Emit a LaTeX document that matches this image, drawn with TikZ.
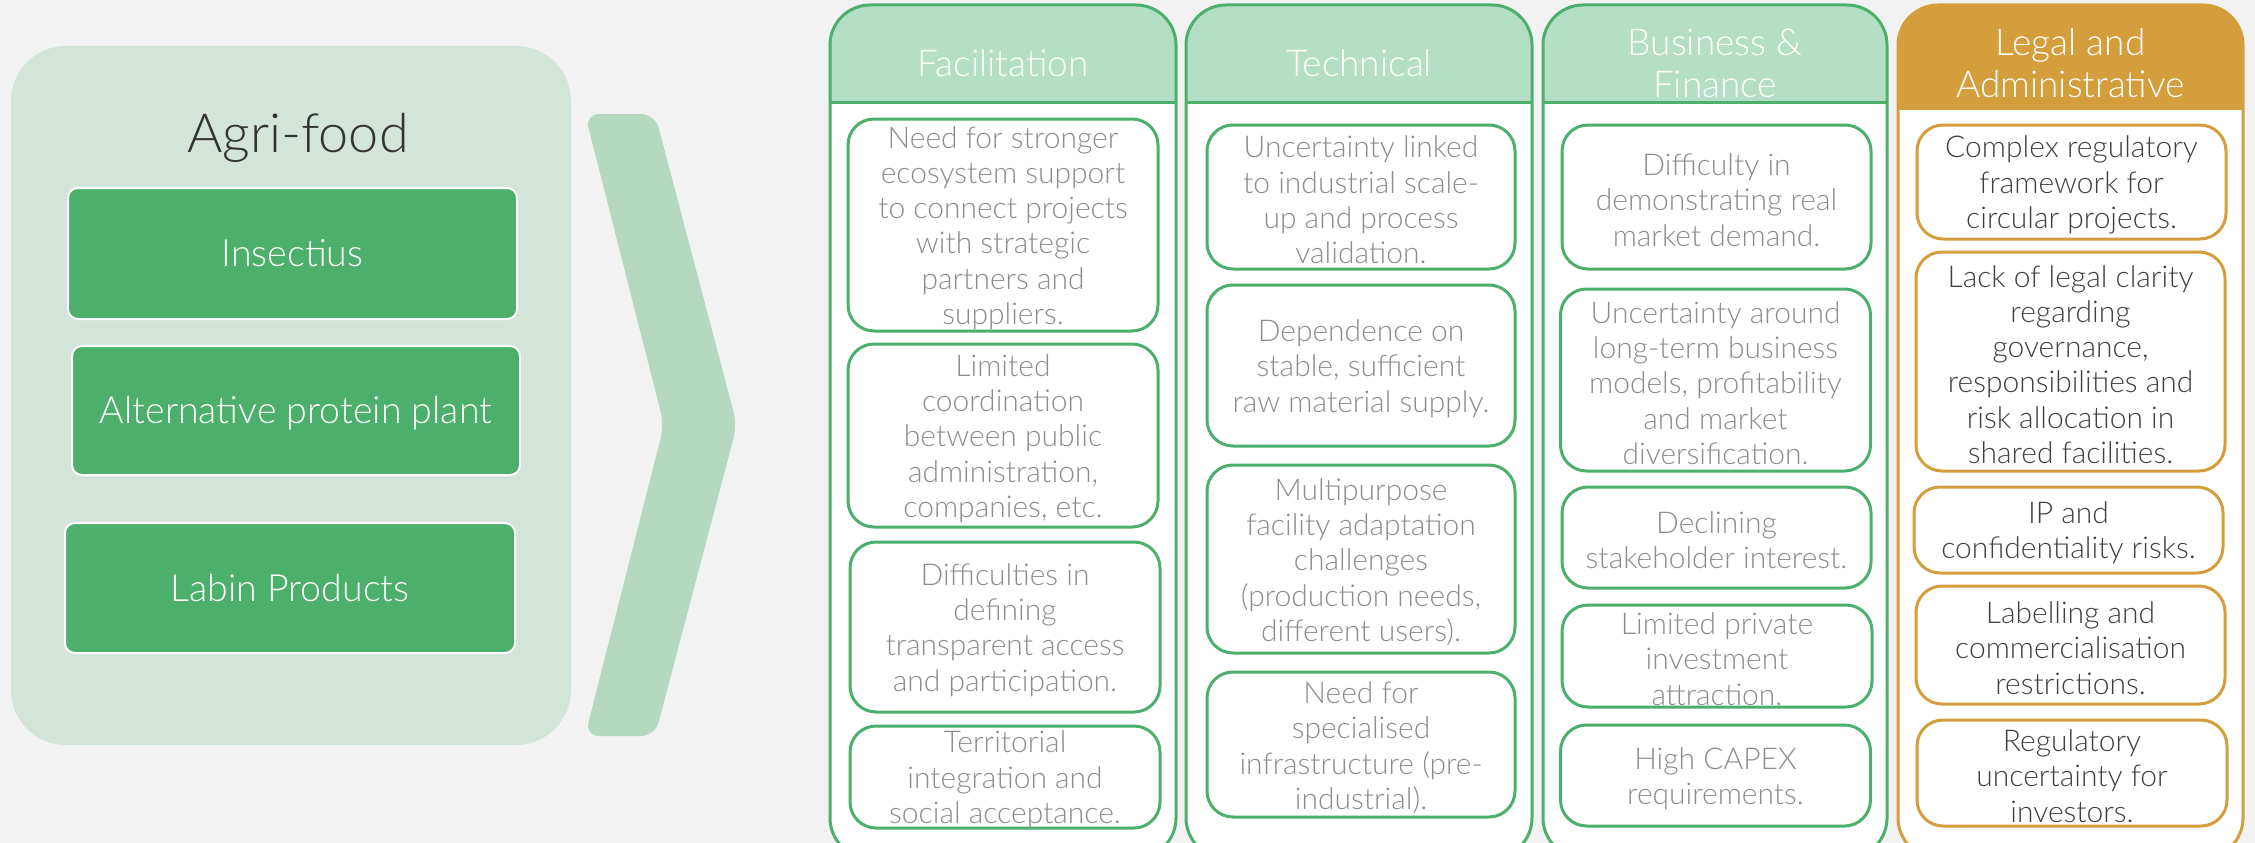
\documentclass[tikz,border=0pt]{standalone}
\usepackage{fontspec}
\setmainfont{Lato Light}
\definecolor{bgc}{HTML}{F2F2F2}
\definecolor{panelc}{HTML}{D3E5D9}
\definecolor{chevc}{HTML}{B4D9C0}
\definecolor{gboxc}{HTML}{4DAF6C}
\definecolor{colg}{HTML}{4DAF6C}
\definecolor{headg}{HTML}{B4DFC4}
\definecolor{orng}{HTML}{D59E3D}
\definecolor{greyt}{HTML}{8C8C8C}
\definecolor{darkt}{HTML}{404040}
\definecolor{titlet}{HTML}{333333}
\tikzset{
  cbox/.style={draw=#1, line width=3pt, fill=white, rounded corners=26pt, inner sep=0pt},
  boxtext/.style={text=#1, align=center, inner sep=0pt, yshift=-3pt, font=\fontsize{30}{35.3}\selectfont},
  gbox/.style={draw=white, line width=2pt, fill=gboxc, rounded corners=10pt, inner sep=0pt},
  gtext/.style={text=white, inner sep=0pt, font=\fontsize{37.5}{43}\selectfont},
  headtext/.style={text=white, align=center, inner sep=0pt, anchor=base, font=\fontsize{37}{42}\selectfont},
  colline/.style={line width=3pt, rounded corners=40pt},
}
\begin{document}
\begin{tikzpicture}[x=1pt,y=-1pt]
\useasboundingbox (0,0) rectangle (2255,843);
\clip (0,0) rectangle (2255,843);
\fill[bgc] (0,0) rectangle (2255,843);

% left panel
\node[fill=panelc, rounded corners=55pt, minimum width=560pt, minimum height=699pt, inner sep=0pt] (panel) at (291,395.5) {};
\node[text=titlet, anchor=base, inner sep=0pt, font=\fontsize{54}{60}\selectfont] (title) at (298,152) {Agri-food};
\node[gbox, minimum width=449pt, minimum height=131pt] (ins) at (292.5,253.5) {};
\node[gtext] at (ins) {Insectius};
\node[gbox, minimum width=448pt, minimum height=129pt] (alt) at (296,410.5) {};
\node[gtext] at ([yshift=-3pt]alt.center) {Alternative protein plant};
\node[gbox, minimum width=450pt, minimum height=130pt] (lab) at (290,588) {};
\node[gtext] at (lab) {Labin Products};

% chevron
\fill[chevc, rounded corners=14pt] (585,114) -- (655,114) -- (737,425) -- (655,736) -- (585,736) -- (664,425) -- cycle;

% columns
\foreach \xa/\xb/\hb/\cc/\hc in {830/1176/102/colg/headg, 1186/1532/102/colg/headg, 1543/1887/102/colg/headg, 1898/2243/108/orng/orng}{
  \fill[white, rounded corners=40pt] (\xa,5) rectangle (\xb,858);
  \begin{scope}
    \clip[rounded corners=40pt] (\xa,5) rectangle (\xb,858);
    \fill[\hc] (\xa,5) rectangle (\xb,\hb);
  \end{scope}
  \draw[\cc, line width=3pt] (\xa,\hb) -- (\xb,\hb);
  \draw[\cc, colline] (\xa,5) rectangle (\xb,858);
}

\node[headtext] (hfac) at (1003,77) {Facilitation};
\node[headtext] (htec) at (1359,77) {Technical};
\node[headtext] (hbus) at (1715,97) {Business \&\\Finance};
\node[headtext] (hleg) at (2070.5,97) {Legal and\\Administrative};

% Facilitation
\node[cbox=colg, minimum width=310pt, minimum height=212pt] (f1) at (1003,225) {};
\node[boxtext=greyt] at (f1) {Need for stronger\\ecosystem support\\to connect projects\\with strategic\\partners and\\suppliers.};
\node[cbox=colg, minimum width=310pt, minimum height=183pt] (f2) at (1003,435.5) {};
\node[boxtext=greyt] at (f2) {Limited\\coordination\\between public\\administration,\\companies, etc.};
\node[cbox=colg, minimum width=310pt, minimum height=170pt] (f3) at (1005,627) {};
\node[boxtext=greyt] at (f3) {Difficulties in\\defining\\transparent access\\and participation.};
\node[cbox=colg, minimum width=310pt, minimum height=102pt] (f4) at (1005,777) {};
\node[boxtext=greyt] at (f4) {Territorial\\integration and\\social acceptance.};

% Technical
\node[cbox=colg, minimum width=308pt, minimum height=144pt] (t1) at (1361,197) {};
\node[boxtext=greyt] at (t1) {Uncertainty linked\\to industrial scale-\\up and process\\validation.};
\node[cbox=colg, minimum width=308pt, minimum height=161pt] (t2) at (1361,365.5) {};
\node[boxtext=greyt] at (t2) {Dependence on\\stable, sufficient\\raw material supply.};
\node[cbox=colg, minimum width=308pt, minimum height=188pt] (t3) at (1361,559) {};
\node[boxtext=greyt] at (t3) {Multipurpose\\facility adaptation\\challenges\\(production needs,\\different users).};
\node[cbox=colg, minimum width=308pt, minimum height=145pt] (t4) at (1361,744.5) {};
\node[boxtext=greyt] at (t4) {Need for\\specialised\\infrastructure (pre-\\industrial).};

% Business
\node[cbox=colg, minimum width=309pt, minimum height=144pt] (b1) at (1716.5,197) {};
\node[boxtext=greyt] at (b1) {Difficulty in\\demonstrating real\\market demand.};
\node[cbox=colg, minimum width=310pt, minimum height=182pt] (b2) at (1715.5,380) {};
\node[boxtext=greyt] at (b2) {Uncertainty around\\long-term business\\models, profitability\\and market\\diversification.};
\node[cbox=colg, minimum width=309pt, minimum height=101pt] (b3) at (1716.5,537.5) {};
\node[boxtext=greyt] at (b3) {Declining\\stakeholder interest.};
\node[cbox=colg, minimum width=310pt, minimum height=102pt] (b4) at (1717,656) {};
\node[boxtext=greyt] at (b4) {Limited private\\investment\\attraction.};
\node[cbox=colg, minimum width=310pt, minimum height=101pt] (b5) at (1715.5,775.5) {};
\node[boxtext=greyt] at (b5) {High CAPEX\\requirements.};

% Legal
\node[cbox=orng, minimum width=309pt, minimum height=114pt] (l1) at (2071.5,182) {};
\node[boxtext=darkt] at (l1) {Complex regulatory\\framework for\\circular projects.};
\node[cbox=orng, minimum width=309pt, minimum height=219pt] (l2) at (2070.5,361.5) {};
\node[boxtext=darkt] at (l2) {Lack of legal clarity\\regarding\\governance,\\responsibilities and\\risk allocation in\\shared facilities.};
\node[cbox=orng, minimum width=309pt, minimum height=86pt] (l3) at (2068.5,530) {};
\node[boxtext=darkt] at (l3) {IP and\\confidentiality risks.};
\node[cbox=orng, minimum width=309pt, minimum height=118pt] (l4) at (2070.5,645) {};
\node[boxtext=darkt] at (l4) {Labelling and\\commercialisation\\restrictions.};
\node[cbox=orng, minimum width=310pt, minimum height=106pt] (l5) at (2072,773) {};
\node[boxtext=darkt] at (l5) {Regulatory\\uncertainty for\\investors.};
\end{tikzpicture}
\end{document}
